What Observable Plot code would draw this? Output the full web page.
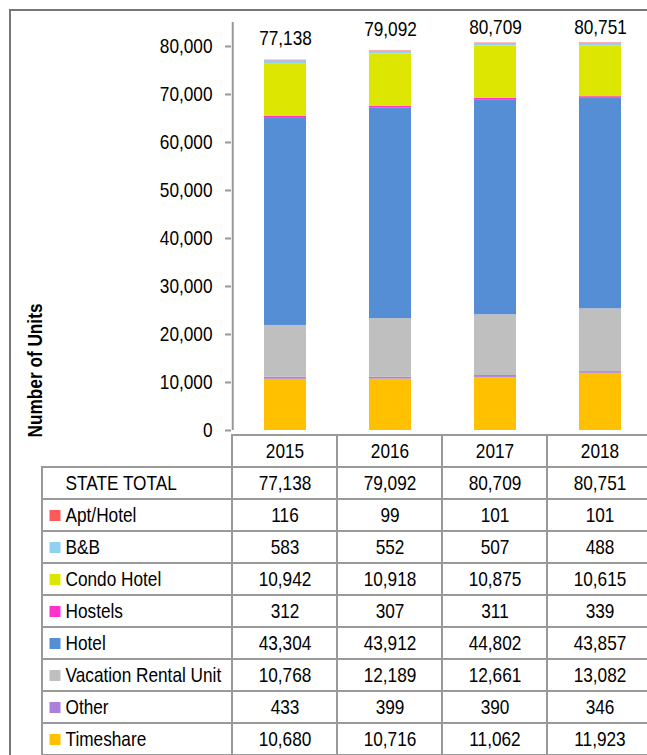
<!DOCTYPE html>
<html><head><meta charset="utf-8">
<script src="https://cdn.jsdelivr.net/npm/d3@7"></script>
<script src="https://cdn.jsdelivr.net/npm/@observablehq/plot@0.6"></script>
<style>
html,body{margin:0;padding:0;background:#fff;overflow:hidden;}
#wrap{position:relative;width:647px;height:755px;overflow:hidden;}
#border{position:absolute;left:9px;top:9px;width:700px;height:800px;border-left:2px solid #777;border-top:2px solid #777;}
#chart,#table{position:absolute;left:0;}
#chart{top:0;} #table{top:430px;}
svg{overflow:visible;}
g[aria-label^="y-axis"] line, g[aria-label^="y-axis"] path{stroke:#999;stroke-width:2px;}
</style></head><body>
<div id="wrap"><div id="border"></div><div id="chart"></div><div id="table"></div></div>
<script>
const years = ["2015", "2016", "2017", "2018"];
const series = ["Apt/Hotel", "B&B", "Condo Hotel", "Hostels", "Hotel", "Vacation Rental Unit", "Other", "Timeshare"];
const seriesColors = ["#ff5a5a", "#92d0f2", "#dce600", "#ff33cc", "#558ed5", "#bfbfbf", "#ad7fdc", "#ffc000"];
const stateTotal = [77138, 79092, 80709, 80751];
const aptHotel = [116, 99, 101, 101];
const bnb = [583, 552, 507, 488];
const condoHotel = [10942, 10918, 10875, 10615];
const hostels = [312, 307, 311, 339];
const hotel = [43304, 43912, 44802, 43857];
const vacationRental = [10768, 12189, 12661, 13082];
const other = [433, 399, 390, 346];
const timeshare = [10680, 10716, 11062, 11923];
const yTicks = [0, 10000, 20000, 30000, 40000, 50000, 60000, 70000, 80000];
const yTitle = "Number of Units";
const totalLabel = "STATE TOTAL";

const seriesValues = [aptHotel, bnb, condoHotel, hostels, hotel, vacationRental, other, timeshare];
// stacked bottom-to-top: reverse of table order
const long = [];
for (let s = series.length - 1; s >= 0; s--) {
  years.forEach((y, i) => long.push({year: y, series: series[s], value: seriesValues[s][i]}));
}
const totals = years.map((y, i) => ({year: y, total: stateTotal[i]}));

const FONT = "'Liberation Sans',Arial,sans-serif";
const GRID = "#999";
const xRange = [231, 653];
const step = (xRange[1] - xRange[0]) / years.length;
const fmt = d3.format(",");
const color = {domain: series, range: seriesColors};

const chart = Plot.plot({
  width: 647, height: 431,
  marginLeft: 231, marginRight: 0, marginTop: 22, marginBottom: 1,
  style: {fontFamily: FONT, fontSize: "21px", color: "#000", background: "transparent", overflow: "visible"},
  x: {domain: years, range: xRange, paddingInner: 0.6, paddingOuter: 0.3, axis: null},
  y: {domain: [0, 85000], ticks: yTicks, tickFormat: fmt, tickSize: 6, tickPadding: 13, label: null},
  color,
  marks: [
    Plot.barY(long, {x: "year", y: "value", fill: "series"}),
    Plot.ruleX([years[0]], {dx: -step / 2, stroke: GRID, strokeWidth: 2}),
    Plot.text(totals, {x: "year", y: d => Math.min(d.total, 79400), dy: -22, text: d => fmt(d.total), fontSize: 21}),
    Plot.text([yTitle], {frameAnchor: "left", textAnchor: "middle", dx: -196, dy: 144, rotate: -90, fontWeight: "bold", fontSize: 21})
  ]
});
document.getElementById("chart").appendChild(chart);

const rowKeys = ["__year__", totalLabel, ...series];
const bodyRows = rowKeys.slice(1);
const gridCells = [];
rowKeys.forEach(r => years.forEach(y => gridCells.push({row: r, year: y})));
const valueCells = [];
years.forEach((y, i) => {
  valueCells.push({row: totalLabel, year: y, text: fmt(stateTotal[i])});
  series.forEach((s, k) => valueCells.push({row: s, year: y, text: fmt(seriesValues[k][i])}));
});

const table = Plot.plot({
  width: 647, height: 325,
  marginLeft: 231, marginRight: 0, marginTop: 0, marginBottom: 0,
  style: {fontFamily: FONT, fontSize: "21px", color: "#000", background: "transparent", overflow: "visible"},
  x: {domain: years, range: xRange, padding: 0, axis: null},
  y: {domain: rowKeys, range: [0, 329], padding: 0, axis: null},
  color,
  marks: [
    Plot.cell(bodyRows, {y: d => d, fill: "none", stroke: GRID, strokeWidth: 2, insetLeft: -189, insetRight: -6}),
    Plot.cell(gridCells, {x: "year", y: "row", fill: "none", stroke: GRID, strokeWidth: 2}),
    Plot.text(years, {x: d => d, y: () => "__year__", text: d => d}),
    Plot.text(valueCells, {x: "year", y: "row", text: "text"}),
    Plot.text(bodyRows, {y: d => d, text: d => d, frameAnchor: "left", textAnchor: "start", dx: -166}),
    Plot.dot(series, {y: d => d, fill: d => d, symbol: "square", r: 6.2, frameAnchor: "left", dx: -176.5})
  ]
});
document.getElementById("table").appendChild(table);

// Emulate the narrow (Arial Narrow-like) face of the original by condensing glyphs horizontally
function condense(svg, k) {
  svg.querySelectorAll("text").forEach(t => {
    const len = t.getComputedTextLength();
    if (len > 0) {
      t.setAttribute("textLength", (len * k).toFixed(2));
      t.setAttribute("lengthAdjust", "spacingAndGlyphs");
    }
  });
}
condense(chart, 0.82);
condense(table, 0.82);
</script>
</body></html>
